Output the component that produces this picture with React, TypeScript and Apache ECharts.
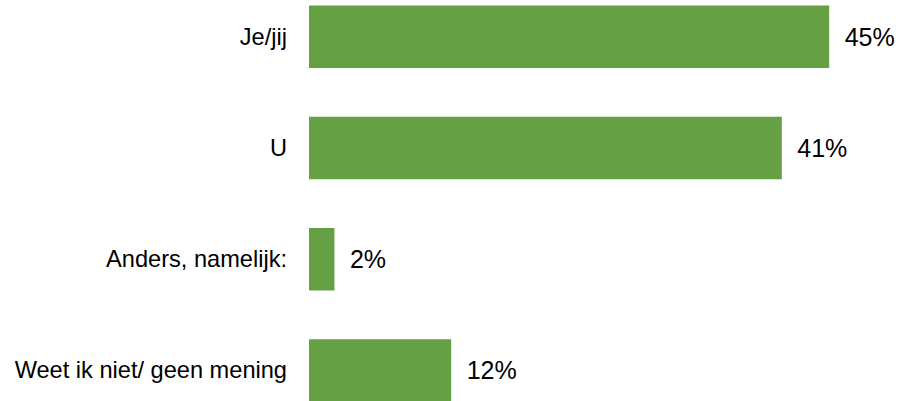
import React, { useEffect, useRef } from "react";
import * as echarts from "echarts";

const categories = ["Je/jij", "U", "Anders, namelijk:", "Weet ik niet/ geen mening"];
const values = [45.0, 40.9, 2.2, 12.3];
const barColor = "#65A144";

export default function App() {
  const ref = useRef<HTMLDivElement>(null);
  useEffect(() => {
    if (!ref.current) return;
    const chart = echarts.init(ref.current, undefined, { renderer: "svg" });
    chart.setOption({
      animation: false,
      backgroundColor: "#ffffff",
      grid: { left: 309, right: 16, top: 0, bottom: 0, containLabel: false },
      xAxis: {
        type: "value",
        min: 0,
        max: 50,
        show: false,
      },
      yAxis: {
        type: "category",
        inverse: true,
        data: categories,
        axisLine: { show: false },
        axisTick: { show: false },
        splitLine: { show: false },
        axisLabel: {
          margin: 22,
          fontFamily: "Liberation Sans, Arial, sans-serif",
          fontSize: 23.6,
          color: "#000000",
        },
      },
      series: [
        {
          type: "bar",
          data: values,
          barWidth: 62.5,
          itemStyle: { color: barColor },
          label: {
            show: true,
            position: "right",
            distance: 15.5,
            fontFamily: "Liberation Sans, Arial, sans-serif",
            fontSize: 25,
            color: "#000000",
            formatter: (p: any) => Math.round(p.value) + "%",
          },
        },
      ],
    });
    return () => chart.dispose();
  }, []);
  return (
    <div style={{ position: "fixed", left: 0, top: 0, width: 903, height: 401, overflow: "hidden", background: "#ffffff" }}>
      <div
        ref={ref}
        style={{ position: "absolute", left: 0, top: -19.2, width: 903, height: 445.3 }}
      />
    </div>
  );
}
